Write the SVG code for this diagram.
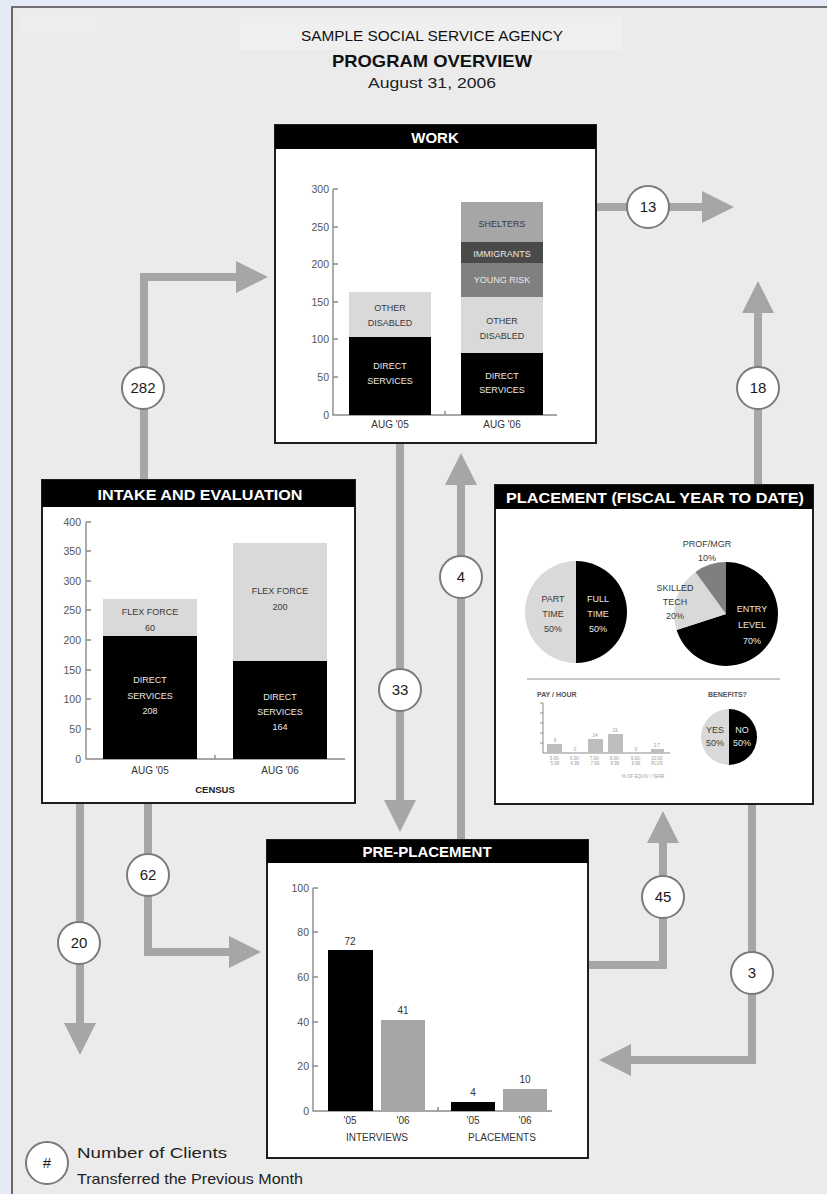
<svg xmlns="http://www.w3.org/2000/svg" width="827" height="1194" viewBox="0 0 827 1194">
<style>
text{font-family:"Liberation Sans",Arial,sans-serif}
.box{fill:#fff;stroke:#1e1e1e;stroke-width:2}
.hdr{fill:#000}
.ht{font-weight:bold;font-size:15px;fill:#fff;text-anchor:middle}
.ax{stroke:#8a8a8a;stroke-width:1.4;fill:none}
.tl{font-size:10.5px;fill:#555;text-anchor:end}
.bl{font-size:9px;text-anchor:middle;fill:#3a3a3a}
.bw{font-size:9px;text-anchor:middle;fill:#e8e8e8}
.xl{font-size:10px;text-anchor:middle;fill:#333}
.conn{stroke:#a6a6a6;stroke-width:8;fill:none;stroke-linejoin:miter;marker-end:url(#ah)}
.bd circle{fill:#fff;stroke:#7a7a7a;stroke-width:2}
.bd text{font-size:15px;fill:#1a1a1a;text-anchor:middle}
.tiny{font-size:4.5px;fill:#9a9a9a;text-anchor:middle}
</style>
<defs>
<marker id="ah" markerUnits="userSpaceOnUse" markerWidth="32" markerHeight="32" viewBox="0 0 32 32" refX="0" refY="16" orient="auto">
<path d="M0,0 L32,16 L0,32 Z" fill="#a6a6a6"/>
</marker>
</defs>

<!-- page background -->
<rect x="0" y="0" width="827" height="1194" fill="#e4eaf6"/>
<rect x="12" y="7" width="815" height="1187" fill="#ebebeb"/>
<rect x="240" y="17" width="382" height="33" fill="#efefef"/>
<rect x="21" y="17" width="74" height="16" fill="#eeeeee"/>
<path d="M12,1194 V7 H827" fill="none" stroke="#4a4a4a" stroke-width="1.6"/>

<!-- title -->
<g id="title">
<text x="432" y="41" font-size="15" text-anchor="middle" fill="#111" textLength="262" lengthAdjust="spacingAndGlyphs">SAMPLE SOCIAL SERVICE AGENCY</text>
<text x="432" y="67" font-size="17" font-weight="bold" text-anchor="middle" fill="#111" textLength="200" lengthAdjust="spacingAndGlyphs">PROGRAM OVERVIEW</text>
<text x="432" y="88" font-size="14" text-anchor="middle" fill="#222" textLength="128" lengthAdjust="spacingAndGlyphs">August 31, 2006</text>
</g>

<!-- connectors -->
<g id="connectors">
<path class="conn" d="M144,480 V277 H236"/>
<path class="conn" d="M596,207 H702"/>
<path class="conn" d="M758,485 V313"/>
<path class="conn" d="M400,443 V800"/>
<path class="conn" d="M461,840 V485"/>
<path class="conn" d="M80,803 V1023"/>
<path class="conn" d="M148,803 V952 H229"/>
<path class="conn" d="M588,965 H663 V843"/>
<path class="conn" d="M752,804 V1060 H631"/>
</g>

<!-- WORK -->
<g id="work">
<rect class="box" x="275" y="125" width="321" height="318"/>
<rect class="hdr" x="275" y="125" width="321" height="24"/>
<text class="ht" x="435" y="143">WORK</text>
<path class="ax" d="M333,189 V415 H557 M333,189 h5 M333,227 h5 M333,264 h5 M333,302 h5 M333,339 h5 M333,377 h5 M445,411 V415"/>
<g class="tl">
<text x="329" y="193">300</text><text x="329" y="231">250</text><text x="329" y="268">200</text><text x="329" y="306">150</text><text x="329" y="343">100</text><text x="329" y="381">50</text><text x="329" y="419">0</text>
</g>
<rect x="349" y="292" width="82" height="45" fill="#d9d9d9"/>
<rect x="349" y="337" width="82" height="78" fill="#000"/>
<rect x="461" y="202" width="82" height="40" fill="#a6a6a6"/>
<rect x="461" y="242" width="82" height="21" fill="#4a4a4a"/>
<rect x="461" y="263" width="82" height="34" fill="#808080"/>
<rect x="461" y="297" width="82" height="56" fill="#d9d9d9"/>
<rect x="461" y="353" width="82" height="62" fill="#000"/>
<text class="bl" x="390" y="311">OTHER</text><text class="bl" x="390" y="326">DISABLED</text>
<text class="bw" x="390" y="369">DIRECT</text><text class="bw" x="390" y="384">SERVICES</text>
<text class="bl" x="502" y="227">SHELTERS</text>
<text class="bw" x="502" y="257">IMMIGRANTS</text>
<text class="bw" x="502" y="283">YOUNG RISK</text>
<text class="bl" x="502" y="324">OTHER</text><text class="bl" x="502" y="339">DISABLED</text>
<text class="bw" x="502" y="379">DIRECT</text><text class="bw" x="502" y="393">SERVICES</text>
<text class="xl" x="390" y="428">AUG '05</text><text class="xl" x="502" y="428">AUG '06</text>
</g>

<!-- INTAKE AND EVALUATION -->
<g id="intake">
<rect class="box" x="42" y="480" width="313" height="323"/>
<rect class="hdr" x="42" y="480" width="313" height="27"/>
<text class="ht" x="200" y="500" font-size="16" textLength="205" lengthAdjust="spacingAndGlyphs">INTAKE AND EVALUATION</text>
<path class="ax" d="M86,522 V759 H345 M86,522 h5 M86,551 h5 M86,581 h5 M86,610 h5 M86,640 h5 M86,670 h5 M86,699 h5 M86,729 h5 M215,755 V759"/>
<g class="tl">
<text x="81" y="526">400</text><text x="81" y="555">350</text><text x="81" y="585">300</text><text x="81" y="614">250</text><text x="81" y="644">200</text><text x="81" y="674">150</text><text x="81" y="703">100</text><text x="81" y="733">50</text><text x="81" y="763">0</text>
</g>
<rect x="103" y="599" width="94" height="37" fill="#d9d9d9"/>
<rect x="103" y="636" width="94" height="123" fill="#000"/>
<rect x="233" y="543" width="94" height="118" fill="#d9d9d9"/>
<rect x="233" y="661" width="94" height="98" fill="#000"/>
<text class="bl" x="150" y="615">FLEX FORCE</text><text class="bl" x="150" y="631">60</text>
<text class="bw" x="150" y="683">DIRECT</text><text class="bw" x="150" y="699">SERVICES</text><text class="bw" x="150" y="714">208</text>
<text class="bl" x="280" y="594">FLEX FORCE</text><text class="bl" x="280" y="610">200</text>
<text class="bw" x="280" y="700">DIRECT</text><text class="bw" x="280" y="715">SERVICES</text><text class="bw" x="280" y="730">164</text>
<text class="xl" x="150" y="774">AUG '05</text><text class="xl" x="280" y="774">AUG '06</text>
<text x="215" y="793" font-size="9.5" font-weight="bold" text-anchor="middle" fill="#222">CENSUS</text>
</g>

<!-- PLACEMENT -->
<g id="placement">
<rect class="box" x="495" y="485" width="318" height="319"/>
<rect class="hdr" x="495" y="485" width="318" height="24"/>
<text class="ht" x="655" y="503" textLength="298" lengthAdjust="spacingAndGlyphs">PLACEMENT (FISCAL YEAR TO DATE)</text>
<path d="M576,561 A51,51 0 0 0 576,663 Z" fill="#d9d9d9"/>
<path d="M576,561 A51,51 0 0 1 576,663 Z" fill="#000"/>
<text class="bl" x="553" y="602">PART</text><text class="bl" x="553" y="617">TIME</text><text class="bl" x="553" y="632">50%</text>
<text class="bw" x="598" y="602">FULL</text><text class="bw" x="598" y="617">TIME</text><text class="bw" x="598" y="632">50%</text>
<path d="M726,614 L726,562 A52,52 0 1 1 676.54,630.07 Z" fill="#000"/>
<path d="M726,614 L676.54,630.07 A52,52 0 0 1 695.43,571.93 Z" fill="#d9d9d9"/>
<path d="M726,614 L695.43,571.93 A52,52 0 0 1 726,562 Z" fill="#7f7f7f"/>
<text class="bl" x="707" y="547">PROF/MGR</text><text class="bl" x="707" y="561">10%</text>
<text class="bl" x="675" y="591">SKILLED</text><text class="bl" x="675" y="605">TECH</text><text class="bl" x="675" y="619">20%</text>
<text class="bw" x="752" y="612">ENTRY</text><text class="bw" x="752" y="628">LEVEL</text><text class="bw" x="752" y="644">70%</text>
<line x1="527" y1="679" x2="780" y2="679" stroke="#c8c8c8" stroke-width="2"/>
<text x="537" y="697" font-size="7" font-weight="bold" fill="#555">PAY / HOUR</text>
<text x="708" y="697" font-size="7" font-weight="bold" fill="#555">BENEFITS?</text>
<path d="M543,703 V753 H670 M540,703 h3 M540,713 h3 M540,723 h3 M540,733 h3 M540,743 h3" fill="none" stroke="#8a8a8a" stroke-width="1"/>
<rect x="547" y="744" width="15" height="9" fill="#bdbdbd"/>
<rect x="588" y="739" width="15" height="14" fill="#bdbdbd"/>
<rect x="608" y="734" width="15" height="19" fill="#bdbdbd"/>
<rect x="651" y="749" width="13" height="4" fill="#bdbdbd"/>
<g class="tiny">
<text x="555" y="742">9</text><text x="575" y="751">0</text><text x="595" y="737">14</text><text x="615" y="732">19</text><text x="636" y="751">0</text><text x="657" y="747">3.7</text>
<text x="555" y="760">5.00-</text><text x="555" y="765">5.99</text>
<text x="575" y="760">6.00-</text><text x="575" y="765">6.99</text>
<text x="595" y="760">7.00-</text><text x="595" y="765">7.99</text>
<text x="615" y="760">8.00-</text><text x="615" y="765">8.99</text>
<text x="636" y="760">9.00-</text><text x="636" y="765">9.99</text>
<text x="657" y="760">10.00</text><text x="657" y="765">PLUS</text>
<text x="643" y="778">% OF EQUIV / YEAR</text>
</g>
<path d="M729,709 A28,28 0 0 0 729,765 Z" fill="#d9d9d9"/>
<path d="M729,709 A28,28 0 0 1 729,765 Z" fill="#000"/>
<text class="bl" x="715" y="733">YES</text><text class="bl" x="715" y="746">50%</text>
<text class="bw" x="742" y="733">NO</text><text class="bw" x="742" y="746">50%</text>
</g>

<!-- PRE-PLACEMENT -->
<g id="preplacement">
<rect class="box" x="267" y="840" width="321" height="318"/>
<rect class="hdr" x="267" y="840" width="321" height="23"/>
<text class="ht" x="427" y="857">PRE-PLACEMENT</text>
<path class="ax" d="M313,888 V1111 H552 M313,888 h5 M313,932 h5 M313,977 h5 M313,1022 h5 M313,1066 h5 M438,1107 V1111"/>
<g class="tl">
<text x="309" y="892">100</text><text x="309" y="936">80</text><text x="309" y="981">60</text><text x="309" y="1026">40</text><text x="309" y="1070">20</text><text x="309" y="1115">0</text>
</g>
<rect x="328" y="950" width="45" height="161" fill="#000"/>
<rect x="381" y="1020" width="44" height="91" fill="#a6a6a6"/>
<rect x="451" y="1102" width="44" height="9" fill="#000"/>
<rect x="503" y="1089" width="44" height="22" fill="#a6a6a6"/>
<g class="xl" font-size="11">
<text x="350" y="945">72</text><text x="403" y="1014">41</text><text x="473" y="1096">4</text><text x="525" y="1083">10</text>
<text x="350" y="1124">'05</text><text x="403" y="1124">'06</text><text x="473" y="1124">'05</text><text x="525" y="1124">'06</text>
</g>
<text class="xl" x="377" y="1141">INTERVIEWS</text>
<text class="xl" x="502" y="1141">PLACEMENTS</text>
</g>

<!-- badges -->
<g id="badges" class="bd">
<g id="b282"><circle cx="143" cy="388" r="21"/><text x="143" y="393">282</text></g>
<g id="b13"><circle cx="648" cy="207" r="21"/><text x="648" y="212">13</text></g>
<g id="b18"><circle cx="758" cy="388" r="21"/><text x="758" y="393">18</text></g>
<g id="b33"><circle cx="400" cy="690" r="21"/><text x="400" y="695">33</text></g>
<g id="b4"><circle cx="461" cy="577" r="21"/><text x="461" y="582">4</text></g>
<g id="b62"><circle cx="148" cy="875" r="21"/><text x="148" y="880">62</text></g>
<g id="b20"><circle cx="79" cy="943" r="21"/><text x="79" y="948">20</text></g>
<g id="b45"><circle cx="663" cy="897" r="21"/><text x="663" y="902">45</text></g>
<g id="b3"><circle cx="752" cy="973" r="21"/><text x="752" y="978">3</text></g>
</g>

<!-- legend -->
<g id="legend">
<g class="bd"><circle cx="47" cy="1163" r="21"/><text x="47" y="1168">#</text></g>
<text x="77" y="1158" font-size="15" fill="#222" textLength="150" lengthAdjust="spacingAndGlyphs">Number of Clients</text>
<text x="77" y="1184" font-size="15" fill="#222" textLength="226" lengthAdjust="spacingAndGlyphs">Transferred the Previous Month</text>
</g>
</svg>
